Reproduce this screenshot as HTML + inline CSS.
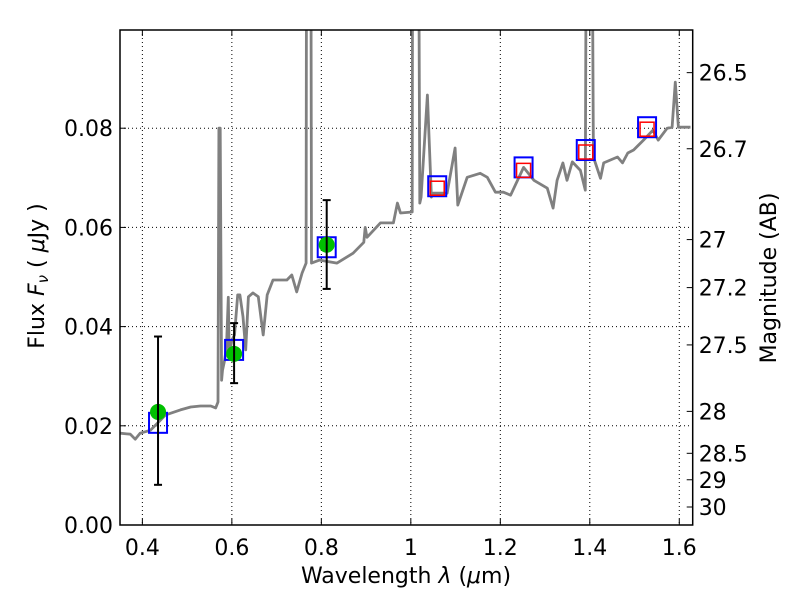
<!DOCTYPE html>
<html><head><meta charset="utf-8"><style>
html,body{margin:0;padding:0;background:#fff;}
svg text{font-family:"DejaVu Sans","Liberation Sans",sans-serif;}
</style></head><body>
<svg id="chart" width="800" height="600" xmlns="http://www.w3.org/2000/svg"></svg>
<script>
const specLam = [0.350,0.373,0.384,0.395,0.418,0.452,0.485,0.508,0.530,0.553,0.564,0.569,0.571,0.574,0.577,0.579,0.584,0.588,0.592,0.594,0.600,0.606,0.613,0.618,0.625,0.631,0.637,0.647,0.659,0.670,0.679,0.692,0.723,0.734,0.745,0.757,0.766,0.768,0.775,0.778,0.796,0.835,0.871,0.895,0.898,0.902,0.932,0.961,0.970,0.977,1.003,1.005,1.014,1.020,1.023,1.037,1.046,1.050,1.081,1.099,1.105,1.126,1.155,1.171,1.189,1.207,1.223,1.252,1.275,1.305,1.318,1.327,1.340,1.349,1.361,1.379,1.390,1.395,1.401,1.408,1.424,1.431,1.462,1.473,1.485,1.498,1.520,1.541,1.553,1.573,1.584,1.591,1.598,1.625];
const specFlux = [0.0185,0.0183,0.0173,0.0185,0.0191,0.0222,0.0232,0.0238,0.0240,0.0240,0.0236,0.0248,0.0800,0.0800,0.0292,0.0312,0.0333,0.0360,0.0459,0.0343,0.0373,0.0383,0.0464,0.0464,0.0420,0.0353,0.0460,0.0468,0.0460,0.0383,0.0464,0.0494,0.0494,0.0504,0.0470,0.0508,0.0528,0.2,0.2,0.0528,0.0534,0.0528,0.0548,0.0570,0.0600,0.0580,0.0609,0.0609,0.0649,0.0629,0.0631,0.2,0.2,0.0649,0.0661,0.0867,0.0661,0.0669,0.0669,0.0760,0.0645,0.0701,0.0709,0.0701,0.0671,0.0671,0.0665,0.0721,0.0695,0.0679,0.0639,0.0695,0.0730,0.0695,0.0732,0.0715,0.0675,0.2,0.2,0.0742,0.0699,0.0730,0.0742,0.0730,0.0750,0.0756,0.0776,0.0796,0.0776,0.0800,0.0802,0.0893,0.0802,0.0802];
const obsLam = [0.435,0.605,0.812];
const obsFlux = [0.0228,0.0345,0.0565];
const obsLo = [0.0081,0.0286,0.0476];
const obsHi = [0.0380,0.0407,0.0655];
const modLam = [0.435,0.605,0.812,1.059,1.252,1.391,1.528];
const modFlux = [0.0206,0.0353,0.0560,0.0683,0.0721,0.0756,0.0802];
const redLam = [1.059,1.252,1.391,1.528];
const redFlux = [0.0679,0.0715,0.0752,0.0798];
const xTicks = [0.4,0.6,0.8,1.0,1.2,1.4,1.6];
const xTickLabels = ["0.4","0.6","0.8","1","1.2","1.4","1.6"];
const yTicks = [0,0.02,0.04,0.06,0.08];
const yTickLabels = ["0.00","0.02","0.04","0.06","0.08"];
const magTicks = [26.5,26.7,27,27.2,27.5,28,28.5,29,30];
const magTickLabels = ["26.5","26.7","27","27.2","27.5","28","28.5","29","30"];

const L=120,R=692.7,T=30,B=525,X0=0.35,X1=1.63,Y0=0,Y1=0.0998;
const sx=v=>L+(v-X0)/(X1-X0)*(R-L);
const sy=v=>B-(v-Y0)/(Y1-Y0)*(B-T);
const magToFlux=m=>Math.pow(10,(23.9-m)/2.5);
const NS="http://www.w3.org/2000/svg";
const svg=document.getElementById('chart');
function mk(tag,attrs,parent){const e=document.createElementNS(NS,tag);for(const k in attrs)e.setAttribute(k,attrs[k]);(parent||svg).appendChild(e);return e;}

const defs=mk('defs',{});
const cp=mk('clipPath',{id:'clip'},defs);
mk('rect',{x:L,y:T,width:R-L,height:B-T},cp);

const grid=mk('g',{});


xTicks.forEach(t=>{const ln=mk('line',{x1:sx(t),x2:sx(t),y1:T,y2:B,stroke:'#000','stroke-width':1,'stroke-dasharray':'1,3'},grid);

});
yTicks.forEach(t=>{const ln=mk('line',{x1:L,x2:R,y1:sy(t),y2:sy(t),stroke:'#000','stroke-width':1,'stroke-dasharray':'1,3'},grid);

});

const plot=mk('g',{'clip-path':'url(#clip)'});
const pts=specLam.map((l,i)=>sx(l).toFixed(1)+','+sy(specFlux[i]).toFixed(1)).join(' ');
const sp=mk('polyline',{points:pts,fill:'none',stroke:'#808080','stroke-width':2.8,'stroke-linejoin':'round'},plot);



modLam.forEach((l,i)=>{const r=mk('rect',{x:sx(l)-9,y:sy(modFlux[i])-10,width:18,height:20,fill:'none',stroke:'#0000ff','stroke-width':2},plot);

});
redLam.forEach((l,i)=>{const r=mk('rect',{x:sx(l)-7,y:sy(redFlux[i])-7,width:14,height:14,fill:'none',stroke:'#ff0000','stroke-width':1.5},plot);

});

obsLam.forEach((l,i)=>{const x=sx(l);
const g=mk('g',{},plot);


mk('circle',{cx:x,cy:sy(obsFlux[i]),r:8,fill:'#00c000'},g);
mk('line',{x1:x,x2:x,y1:sy(obsLo[i]),y2:sy(obsHi[i]),stroke:'#000','stroke-width':2},g);
mk('line',{x1:x-4,x2:x+4,y1:sy(obsLo[i]),y2:sy(obsLo[i]),stroke:'#000','stroke-width':2},g);
mk('line',{x1:x-4,x2:x+4,y1:sy(obsHi[i]),y2:sy(obsHi[i]),stroke:'#000','stroke-width':2},g);});

const fr=mk('rect',{x:L,y:T,width:R-L,height:B-T,fill:'none',stroke:'#000','stroke-width':1.5});



xTicks.forEach((t,i)=>{const x=sx(t);
mk('line',{x1:x,x2:x,y1:B,y2:B-6,stroke:'#000'});
mk('line',{x1:x,x2:x,y1:T,y2:T+6,stroke:'#000'});
const tx=mk('text',{x:x,y:B+30,'font-size':22,'text-anchor':'middle'});
tx.textContent=xTickLabels[i];

});
yTicks.forEach((t,i)=>{const y=sy(t);
mk('line',{x1:L,x2:L+6,y1:y,y2:y,stroke:'#000'});
const tx=mk('text',{x:L-7,y:y+8,'font-size':22,'text-anchor':'end'});
tx.textContent=yTickLabels[i];

});
magTicks.forEach((m,i)=>{const y=sy(magToFlux(m));
mk('line',{x1:R,x2:R-6,y1:y,y2:y,stroke:'#000'});
const tx=mk('text',{x:R+6,y:y+8,'font-size':22,'text-anchor':'start'});
tx.textContent=magTickLabels[i];

});
</script>
<svg style="position:absolute;left:0;top:0" width="800" height="600" xmlns="http://www.w3.org/2000/svg">
<text x="406" y="583" font-size="22" text-anchor="middle" font-family="DejaVu Sans, sans-serif">Wavelength  <tspan font-style="italic">λ</tspan> (<tspan font-style="italic">μ</tspan>m)</text>
<text x="0" y="0" font-size="22" text-anchor="middle" font-family="DejaVu Sans, sans-serif" transform="translate(44,276) rotate(-90)">Flux  <tspan font-style="italic">F</tspan><tspan font-style="italic" font-size="15" dy="4">ν</tspan><tspan dy="-4">  (  </tspan><tspan font-style="italic">μ</tspan>Jy )</text>
<text x="0" y="0" font-size="22" text-anchor="middle" font-family="DejaVu Sans, sans-serif" transform="translate(776,278) rotate(-90)">Magnitude (AB)</text>
</svg>
</body></html>
